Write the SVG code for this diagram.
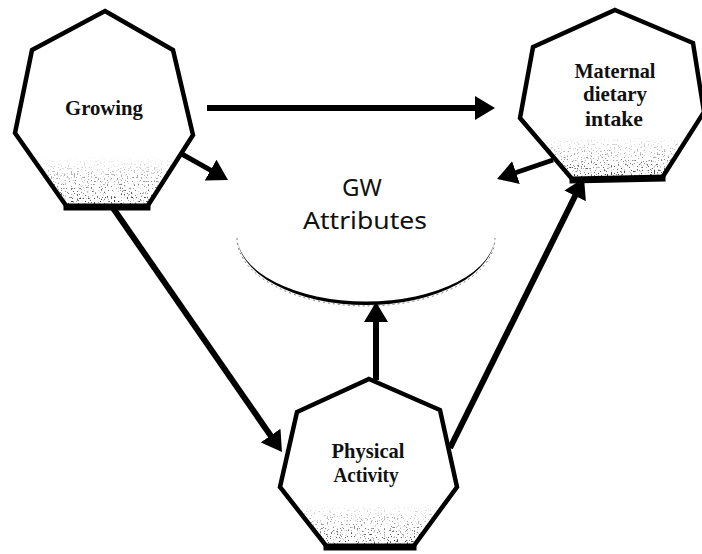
<svg xmlns="http://www.w3.org/2000/svg" width="702" height="554" viewBox="0 0 702 554">
  <defs>
    <style>
      .hept { fill: #ffffff; stroke: #000; stroke-width: 4.5; stroke-linejoin: miter; }
      .base { stroke: #000; stroke-width: 7; stroke-linecap: square; }
      .shade { fill: url(#shadeGrad); stroke: none; filter: url(#grain); }
      .label { font-family: "Liberation Serif", "DejaVu Serif", serif; font-weight: bold; font-size: 21px; fill: #111; text-anchor: middle; }
      .center { font-family: "Noto Sans", "Open Sans", "Liberation Sans", sans-serif; font-size: 24px; fill: #111; text-anchor: middle; }
      .conn { stroke: #000; fill: none; stroke-width: 6; marker-end: url(#head); }
      .conn.thin { stroke-width: 5; }
    </style>
    <linearGradient id="shadeGrad" x1="0" y1="0" x2="0" y2="1">
      <stop offset="0" stop-color="#000" stop-opacity="0"/>
      <stop offset="0.74" stop-color="#000" stop-opacity="0"/>
      <stop offset="1" stop-color="#000" stop-opacity="0.85"/>
    </linearGradient>
    <filter id="grain" x="0" y="0" width="1" height="1">
      <feTurbulence type="fractalNoise" baseFrequency="0.7" numOctaves="1" seed="4" result="noise"/>
      <feColorMatrix in="noise" type="matrix" values="0 0 0 0 0  0 0 0 0 0  0 0 0 0 0  10 0 0 0 -5.9" result="dots"/>
      <feComposite in="dots" in2="SourceGraphic" operator="in"/>
    </filter>
    <marker id="head" viewBox="0 0 20 24" refX="6" refY="12" markerWidth="20" markerHeight="24" markerUnits="userSpaceOnUse" orient="auto">
      <path d="M0,0 L20,12 L0,24 Z" fill="#000"/>
    </marker>
  </defs>

  <rect width="702" height="554" fill="#fff"/>

  <!-- GW Attributes: open bowl (tapering crescent) with its label -->
  <g id="gw-attributes">
    <path d="M237,238 A129,68 0 0 0 495,238" fill="none" stroke="#000" stroke-width="1" stroke-dasharray="2 3" opacity="0.5"/>
    <path d="M237,235 A129,70 0 0 0 495,235 A129,66.5 0 0 1 237,235 Z" fill="#000"/>
    <text class="center" x="362" y="196">GW</text>
    <text class="center" x="365" y="229" textLength="124" lengthAdjust="spacingAndGlyphs">Attributes</text>
  </g>

  <!-- connectors -->
  <g id="connectors">
    <line class="conn" x1="207" y1="108" x2="481" y2="108"/>
    <line class="conn thin" x1="180" y1="153" x2="215.8" y2="173.1"/>
    <line class="conn thin" x1="553" y1="160" x2="510.3" y2="174.5"/>
    <line class="conn" x1="113" y1="208" x2="274" y2="440.5"/>
    <line class="conn" x1="376" y1="380" x2="376" y2="316"/>
    <line class="conn" x1="450" y1="448" x2="577.8" y2="190.5"/>
  </g>

  <g id="growing">
    <polygon class="hept" points="105,11 173,50 193,135 147,207 67,207 15,133 32,50"/>
    <polygon class="shade" points="105,11 173,50 193,135 147,207 67,207 15,133 32,50"/>
    <line class="base" x1="67" y1="207" x2="147" y2="207"/>
    <text class="label" x="104" y="115" textLength="78" lengthAdjust="spacingAndGlyphs">Growing</text>
  </g>

  <g id="maternal-dietary-intake">
    <polygon class="hept" points="615,10 693,43 704,112 662,178 573,180 520,118 533,47"/>
    <polygon class="shade" points="615,10 693,43 704,112 662,178 573,180 520,118 533,47"/>
    <line class="base" x1="573" y1="180" x2="662" y2="178"/>
    <text class="label" x="615" y="78" textLength="81" lengthAdjust="spacingAndGlyphs">Maternal</text>
    <text class="label" x="615" y="101" textLength="64" lengthAdjust="spacingAndGlyphs">dietary</text>
    <text class="label" x="614" y="126" textLength="58" lengthAdjust="spacingAndGlyphs">intake</text>
  </g>

  <g id="physical-activity">
    <polygon class="hept" points="369,379 440,410 457,487 413,547 327,547 280,487 297,412"/>
    <polygon class="shade" points="369,379 440,410 457,487 413,547 327,547 280,487 297,412"/>
    <line class="base" x1="327" y1="547" x2="413" y2="547"/>
    <text class="label" x="368" y="458" textLength="73" lengthAdjust="spacingAndGlyphs">Physical</text>
    <text class="label" x="366" y="482" textLength="65" lengthAdjust="spacingAndGlyphs">Activity</text>
  </g>
</svg>
